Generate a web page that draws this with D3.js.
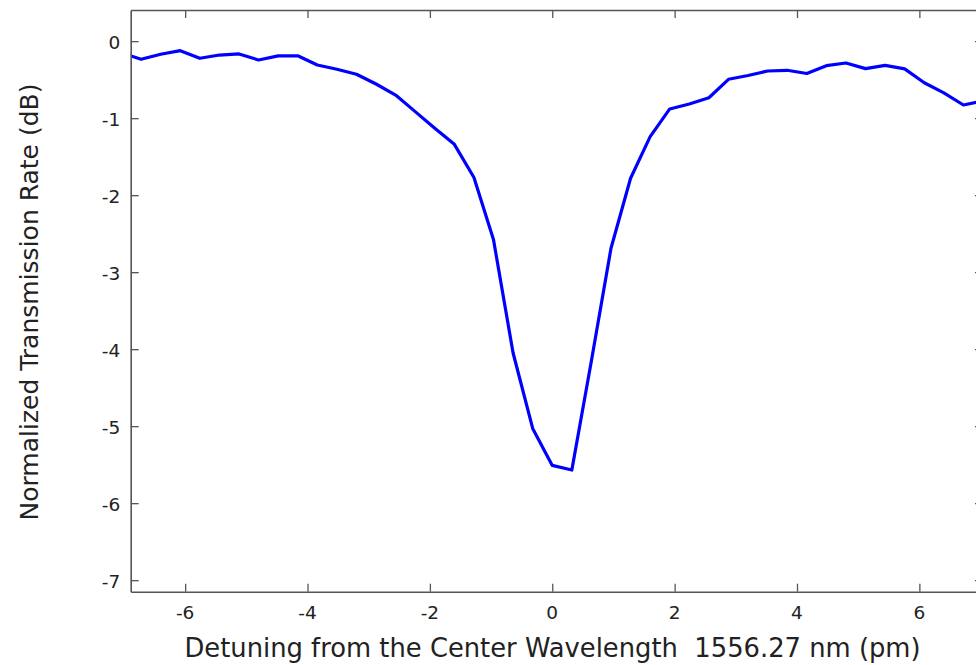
<!DOCTYPE html>
<html>
<head>
<meta charset="utf-8">
<script src="https://cdn.jsdelivr.net/npm/d3@7/dist/d3.min.js"></script>
<style>
  html, body { margin: 0; padding: 0; background: #fff; }
  svg { display: block; }
  text { font-family: "DejaVu Sans", sans-serif; fill: #222; }
</style>
</head>
<body>
<svg id="chart" width="976" height="665"></svg>
<script>
// Detuning (pm)
const detuning = [-7.04, -6.72, -6.40, -6.08, -5.76, -5.44, -5.12, -4.80, -4.48, -4.16,
  -3.84, -3.52, -3.20, -2.88, -2.56, -2.24, -1.92, -1.60, -1.28, -0.96,
  -0.64, -0.32, 0.00, 0.32, 0.64, 0.96, 1.28, 1.60, 1.92, 2.24,
  2.56, 2.88, 3.20, 3.52, 3.84, 4.16, 4.48, 4.80, 5.12, 5.44,
  5.76, 6.08, 6.40, 6.72, 7.04];
// Normalized transmission (dB)
const transmission = [-0.15, -0.235, -0.17, -0.123, -0.222, -0.18, -0.166, -0.244, -0.19, -0.19,
  -0.31, -0.365, -0.43, -0.556, -0.70, -0.915, -1.13, -1.34, -1.77, -2.58,
  -4.05, -5.03, -5.51, -5.57, -4.15, -2.69, -1.78, -1.24, -0.88, -0.815,
  -0.735, -0.495, -0.445, -0.387, -0.378, -0.42, -0.318, -0.283, -0.356, -0.315,
  -0.36, -0.54, -0.672, -0.829, -0.775];
const xTicks = [-6, -4, -2, 0, 2, 4, 6];
const yTicks = [0, -1, -2, -3, -4, -5, -6, -7];
const xDomain = [-6.89, 7.04];
const yDomain = [-7.15, 0.405];
const xLabel = "Detuning from the Center Wavelength  1556.27 nm (pm)";
const yLabel = "Normalized Transmission Rate (dB)";

const svg = d3.select("#chart");
const pLeft = 130.7, pRight = 983, pTop = 10, pBottom = 591.7;

const x = d3.scaleLinear().domain(xDomain).range([pLeft, pRight]);
const y = d3.scaleLinear().domain(yDomain).range([pBottom, pTop]);

svg.append("defs").append("clipPath").attr("id", "clip")
  .append("rect").attr("x", pLeft).attr("y", pTop)
  .attr("width", pRight - pLeft).attr("height", pBottom - pTop);

const axisColor = "#555";
const tickLen = 8;

// Curve
const data = detuning.map((d, i) => [d, transmission[i]]);
svg.append("path")
  .datum(data)
  .attr("clip-path", "url(#clip)")
  .attr("fill", "none")
  .attr("stroke", "#0000ff")
  .attr("stroke-width", 3.2)
  .attr("stroke-linejoin", "round")
  .attr("d", d3.line().x(d => x(d[0])).y(d => y(d[1])));

// Axes (inward ticks, mirrored)
const axB = d3.axisBottom(x).tickValues(xTicks).tickSizeInner(-tickLen).tickSizeOuter(0).tickFormat("");
const axT = d3.axisTop(x).tickValues(xTicks).tickSizeInner(-tickLen).tickSizeOuter(0).tickFormat("");
const axL = d3.axisLeft(y).tickValues(yTicks).tickSizeInner(-tickLen).tickSizeOuter(0).tickFormat("");
const axR = d3.axisRight(y).tickValues(yTicks).tickSizeInner(-tickLen).tickSizeOuter(0).tickFormat("");

function style(g) {
  g.select(".domain").attr("stroke", axisColor).attr("stroke-width", 1.6);
  g.selectAll(".tick line").attr("stroke", axisColor).attr("stroke-width", 1.3);
}
svg.append("g").attr("transform", `translate(0,${pBottom})`).call(axB).call(style);
svg.append("g").attr("transform", `translate(0,${pTop})`).call(axT).call(style);
svg.append("g").attr("transform", `translate(${pLeft},0)`).call(axL).call(style);
svg.append("g").attr("transform", `translate(${pRight},0)`).call(axR).call(style);

// Tick labels
svg.append("g").selectAll("text").data(xTicks).join("text")
  .attr("x", d => x(d)).attr("y", pBottom + 27.5)
  .attr("text-anchor", "middle").attr("font-size", "18.5px")
  .text(d => String(d));
svg.append("g").selectAll("text").data(yTicks).join("text")
  .attr("x", pLeft - 10.5).attr("y", d => y(d) + 8.3)
  .attr("text-anchor", "end").attr("font-size", "18.5px")
  .text(d => String(d));

// Axis titles
svg.append("text")
  .attr("x", 552.5).attr("y", 657)
  .attr("text-anchor", "middle").attr("font-size", "25.8px")
  .style("white-space", "pre")
  .text(xLabel);
svg.append("text")
  .attr("transform", "translate(37.5,302) rotate(-90)")
  .attr("text-anchor", "middle").attr("font-size", "25px")
  .text(yLabel);
</script>
</body>
</html>
